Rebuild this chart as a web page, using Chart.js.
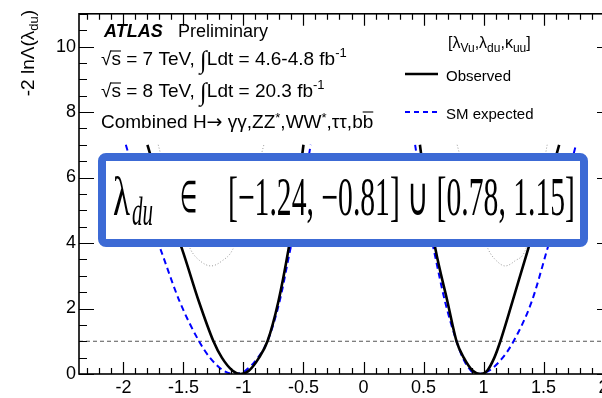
<!DOCTYPE html>
<html>
<head>
<meta charset="utf-8">
<script src="https://cdn.jsdelivr.net/npm/chart.js@4.4.1/dist/chart.umd.min.js"></script>
<style>
  html, body { margin: 0; padding: 0; overflow: hidden; background: #fff; }
  #wrap { width: 602px; height: 398px; overflow: hidden; }
  canvas { display: block; }
</style>
</head>
<body>
<div id="wrap"><canvas id="likelihood" width="614" height="398"></canvas></div>
<script>
// Axis ranges and tick labels
const xMin = -2.37, xMax = 2.07;
const yMin = 0, yMax = 11;
const xTickValues = [-2, -1.5, -1, -0.5, 0, 0.5, 1, 1.5, 2];
const yTickValues = [0, 2, 4, 6, 8, 10];

// -2lnL levels at which the scans are sampled (both sides of each minimum)
const scanY = [7.0, 5.3, 3.8, 2.2, 1.0, 0.5, 0.1, 0.0, 0.1, 0.5, 1.0, 2.2, 3.8, 5.3, 7.0];

// Observed scan, two minima
const obsLeftX  = [-1.80, -1.66, -1.51, -1.37, -1.25, -1.18, -1.09, -1.025, -0.955, -0.87, -0.80, -0.71, -0.625, -0.56, -0.50];
const obsRightX = [0.47, 0.53, 0.60, 0.70, 0.775, 0.835, 0.91, 0.975, 1.03, 1.09, 1.14, 1.24, 1.37, 1.50, 1.63];

// SM expected scan
const expLeftX  = [-1.98, -1.84, -1.69, -1.53, -1.37, -1.28, -1.165, -1.07, -0.985, -0.88, -0.80, -0.70, -0.61, -0.52, -0.44];
const expRightX = [0.43, 0.50, 0.585, 0.68, 0.775, 0.826, 0.895, 0.95, 1.045, 1.16, 1.25, 1.40, 1.53, 1.65, 1.77];

// Secondary (dotted) scans
const dotY      = [7.0, 5.2, 3.8, 3.45, 3.3, 3.45, 3.8, 5.2, 7.0];
const dotLeftX  = [-1.71, -1.58, -1.44, -1.36, -1.27, -1.18, -1.09, -0.96, -0.83];
const dotRightX = [0.78, 0.91, 1.04, 1.11, 1.18, 1.26, 1.35, 1.44, 1.53];

// 1 sigma reference level
const sigmaLevel = 1;

const SANS = '"Liberation Sans", Arial, Helvetica, sans-serif';
const SERIF = '"Liberation Serif", "Times New Roman", serif';
const BOX_BLUE = '#3c6ad5';

const pts = (xs, ys) => xs.map((x, i) => ({ x: x, y: ys[i] }));

const curve = (data, color, width, dash, order) => ({
    data: data,
    showLine: true,
    borderColor: color,
    borderWidth: width,
    borderDash: dash,
    pointRadius: 0,
    cubicInterpolationMode: 'monotone',
    order: order
});

// draws a run of text pieces with their own font / offset
function drawRuns(ctx, x, y, runs) {
    runs.forEach(r => {
        ctx.font = r.font;
        const w = ctx.measureText(r.t).width;
        ctx.fillText(r.t, x, y + (r.dy || 0));
        if (r.bar) {
            ctx.save();
            ctx.lineWidth = 1.1;
            ctx.beginPath();
            ctx.moveTo(x + (r.barFrom || 0), y + r.bar);
            ctx.lineTo(x + w, y + r.bar);
            ctx.stroke();
            ctx.restore();
        }
        x += w + (r.gap || 0);
    });
    return x;
}

// frame with inward ticks on all four sides
const framePlugin = {
    id: 'frame',
    afterDatasetsDraw(chart) {
        const { ctx, chartArea: a, scales: { x, y } } = chart;
        ctx.save();
        ctx.strokeStyle = '#000';
        ctx.lineWidth = 1.2;
        ctx.beginPath();
        for (let k = -23; k <= 20; k++) {
            const px = Math.round(x.getPixelForValue(k / 10)) + 0.5;
            const len = k % 5 === 0 ? 12 : 6;
            ctx.moveTo(px, a.bottom); ctx.lineTo(px, a.bottom - len);
            ctx.moveTo(px, a.top); ctx.lineTo(px, a.top + len);
        }
        for (let k = 0; k <= 22; k++) {
            const py = Math.round(y.getPixelForValue(k * 0.5)) + 0.5;
            const len = k % 4 === 0 ? 15 : 8;
            ctx.moveTo(a.left, py); ctx.lineTo(a.left + len, py);
            ctx.moveTo(a.right, py); ctx.lineTo(a.right - len, py);
        }
        ctx.stroke();
        ctx.lineWidth = 1.6;
        ctx.strokeRect(a.left, a.top, a.right - a.left, a.bottom - a.top);
        ctx.restore();
    }
};

// text labels, legend and the interval box
const labelsPlugin = {
    id: 'labels',
    afterDraw(chart) {
        const ctx = chart.ctx;
        ctx.save();
        ctx.fillStyle = '#000';
        ctx.strokeStyle = '#000';
        ctx.textBaseline = 'alphabetic';
        ctx.textAlign = 'left';

        // y axis title
        ctx.save();
        ctx.translate(34, 10);
        ctx.rotate(-Math.PI / 2);
        ctx.font = '19px ' + SANS;
        const tw = ctx.measureText('-2 ln\u039B(\u03BB').width;
        ctx.font = '13px ' + SANS;
        const sw = ctx.measureText('du').width;
        ctx.font = '19px ' + SANS;
        const cw = ctx.measureText(')').width;
        drawRuns(ctx, -(tw + sw + cw), 0, [
            { t: '-2 ln\u039B(\u03BB', font: '19px ' + SANS },
            { t: 'du', font: '13px ' + SANS, dy: 4 },
            { t: ')', font: '19px ' + SANS }
        ]);
        ctx.restore();

        // experiment label
        const f19 = '19px ' + SANS;
        const f13 = '13px ' + SANS;
        drawRuns(ctx, 104, 37, [{ t: 'ATLAS', font: 'italic bold 18px ' + SANS }]);
        drawRuns(ctx, 178, 37, [{ t: 'Preliminary', font: '18px ' + SANS }]);
        const lumiLine = (yb, energy, lumi) => drawRuns(ctx, 101, yb, [
            { t: '\u221As', font: f19, bar: -14, barFrom: 10 },
            { t: ' = ' + energy + ' TeV, ', font: f19 },
            { t: '\u222B', font: '25px ' + SERIF, dy: 3 },
            { t: 'Ldt = ' + lumi + ' fb', font: f19 },
            { t: '-1', font: f13, dy: -8 }
        ]);
        lumiLine(65, '7', '4.6-4.8');
        lumiLine(97, '8', '20.3');
        drawRuns(ctx, 101, 128, [
            { t: 'Combined H', font: f19 },
            { t: '\u2192', font: '19px "DejaVu Sans", ' + SANS },
            { t: ' \u03B3\u03B3,ZZ', font: f19 },
            { t: '*', font: f13, dy: -6 },
            { t: ',WW', font: f19 },
            { t: '*', font: f13, dy: -6 },
            { t: ',\u03C4\u03C4,b', font: f19 },
            { t: 'b', font: f19, bar: -16 }
        ]);

        // legend
        const f15 = '15px ' + SANS;
        const f16 = '16px ' + SANS;
        const f12 = '12px ' + SANS;
        drawRuns(ctx, 448, 48, [
            { t: '[\u03BB', font: f16 }, { t: 'Vu', font: f12, dy: 4 },
            { t: ',\u03BB', font: f16 }, { t: 'du', font: f12, dy: 4 },
            { t: ',\u03BA', font: f16 }, { t: 'uu', font: f12, dy: 4 },
            { t: ']', font: f16 }
        ]);
        ctx.lineWidth = 2.6;
        ctx.beginPath(); ctx.moveTo(405, 74); ctx.lineTo(438, 74); ctx.stroke();
        ctx.font = f15;
        ctx.fillText('Observed', 446, 81);
        ctx.strokeStyle = '#0000ff';
        ctx.lineWidth = 2;
        ctx.setLineDash([5, 4]);
        ctx.beginPath(); ctx.moveTo(405, 112); ctx.lineTo(438, 112); ctx.stroke();
        ctx.setLineDash([]);
        ctx.fillText('SM expected', 446, 119);

        // interval box
        ctx.fillStyle = '#fff';
        ctx.strokeStyle = BOX_BLUE;
        ctx.lineWidth = 8;
        ctx.beginPath();
        ctx.roundRect(102, 157, 482, 86, 4);
        ctx.fill();
        ctx.stroke();
        ctx.fillStyle = '#000';
        ctx.font = '54px ' + SERIF;
        ctx.fillText('\u03BB', 113, 215, 17);
        ctx.font = 'italic 40px ' + SERIF;
        ctx.fillText('du', 132, 225, 21);
        ctx.font = '44px ' + SERIF;
        ctx.fillText('\u2208', 180, 212, 17);
        ctx.font = '54px ' + SERIF;
        ctx.fillText('[\u22121.24, \u22120.81] \u222A [0.78, 1.15]', 228, 215, 347);
        ctx.restore();
    }
};

new Chart(document.getElementById('likelihood'), {
    type: 'scatter',
    data: {
        datasets: [
            curve(pts(obsLeftX, scanY), '#000', 2.6, [], 1),
            curve(pts(obsRightX, scanY), '#000', 2.6, [], 1),
            curve(pts(expLeftX, scanY), '#0000ff', 2, [6, 4], 2),
            curve(pts(expRightX, scanY), '#0000ff', 2, [6, 4], 2),
            curve(pts(dotLeftX, dotY), '#999', 1, [1, 2], 3),
            curve(pts(dotRightX, dotY), '#999', 1, [1, 2], 3),
            curve([{ x: xMin, y: sigmaLevel }, { x: xMax, y: sigmaLevel }], '#555', 1, [4, 3], 4)
        ]
    },
    options: {
        responsive: false,
        animation: false,
        layout: { padding: { top: 7, right: 2, left: 0, bottom: 0 } },
        plugins: {
            legend: { display: false },
            tooltip: { enabled: false }
        },
        scales: {
            x: {
                type: 'linear',
                min: xMin,
                max: xMax,
                afterBuildTicks: s => { s.ticks = xTickValues.map(v => ({ value: v })); },
                afterFit: s => { s.height = 24; },
                grid: { display: false, drawTicks: false },
                border: { display: false },
                ticks: {
                    color: '#000',
                    padding: 3,
                    maxRotation: 0,
                    autoSkip: false,
                    font: { family: SANS, size: 18 },
                    callback: v => String(v)
                }
            },
            y: {
                type: 'linear',
                min: yMin,
                max: yMax,
                afterBuildTicks: s => { s.ticks = yTickValues.map(v => ({ value: v })); },
                afterFit: s => { s.width = 79; },
                grid: { display: false, drawTicks: false },
                border: { display: false },
                ticks: {
                    color: '#000',
                    padding: 3,
                    autoSkip: false,
                    font: { family: SANS, size: 18 },
                    callback: v => String(v)
                }
            }
        }
    },
    plugins: [framePlugin, labelsPlugin]
});
</script>
</body>
</html>
